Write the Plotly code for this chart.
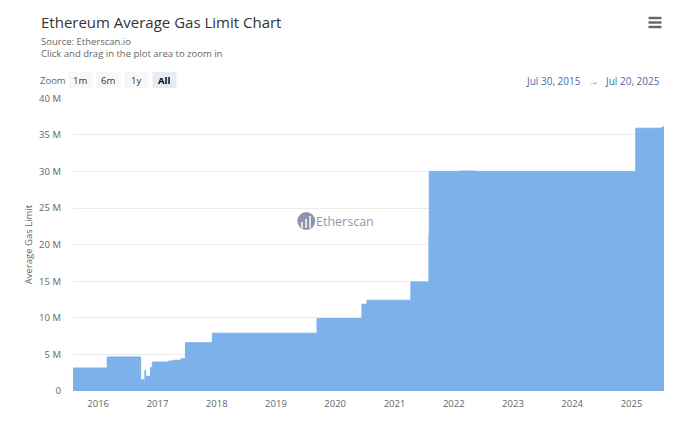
import plotly.graph_objects as go

dates = ["2015-07-30","2016-02-26","2016-09-19","2016-10-09","2016-10-15","2016-10-20","2016-11-19","2016-11-30",
         "2017-03-12","2017-04-09","2017-05-26","2017-06-22","2017-12-05","2019-09-11","2020-06-14","2020-07-15",
         "2021-04-12","2021-08-01","2021-08-03","2022-02-01","2022-05-15","2025-01-27","2025-07-06","2025-07-20"]
gas_limit = [3.14,4.65,1.55,1.2,2.8,2.0,3.2,3.95,
             4.1,4.2,4.4,6.6,7.9,9.9,11.85,12.4,
             14.9,21.4,30.0,30.05,30.0,35.9,36.0,36.3]
y_ticks = [0,5,10,15,20,25,30,35,40]
y_labels = ["0","5 M","10 M","15 M","20 M","25 M","30 M","35 M","40 M"]
x_ticks = ["%d-01-01" % y for y in range(2016,2026)]
x_labels = [str(y) for y in range(2016,2026)]
zoom_buttons = ["1m","6m","1y","All"]

W,H = 680,422
L,R,T,B = 72.5,664,98,391
FONT = "Open Sans"
FILL = "#7db1ea"

def px(x): return (x-L)/(R-L)
def py(y): return (B-y)/(B-T)

fig = go.Figure(go.Scatter(x=dates,y=gas_limit,mode="lines",line=dict(shape="hv",color=FILL,width=1),
                           fill="tozeroy",fillcolor=FILL,hoverinfo="x+y"))

shapes=[]; ann=[]
def text(x,y,s,size,color,anchor="left",**k):
    ann.append(dict(x=px(x),y=py(y),xref="paper",yref="paper",text=s,showarrow=False,xanchor=anchor,yanchor="middle",
                    font=dict(family=FONT,size=size,color=color),**k))
def rect(x0,y0,x1,y1,color):
    shapes.append(dict(type="rect",xref="paper",yref="paper",x0=px(x0),x1=px(x1),y0=py(y0),y1=py(y1),
                       fillcolor=color,line_width=0,layer="above"))

text(38,21.5,"Ethereum Average Gas Limit Chart",15,"#333333")
text(38,48,"Source: Etherscan.io<br>Click and drag in the plot area to zoom in",9.5,"#666666",align="left")
text(37,80.5,"Zoom",9.5,"#666666")
for label,x0,x1 in zip(zoom_buttons,[68,96,124,152],[92,120,148,176]):
    active = label=="All"
    rect(x0,72,x1,88,"#e6ebf5" if active else "#f7f7f7")
    ann.append(dict(x=px((x0+x1)/2),y=py(80.5),xref="paper",yref="paper",text="<b>%s</b>"%label if active else label,
                    showarrow=False,xanchor="center",yanchor="middle",
                    font=dict(family=FONT,size=9.5,color="#000000" if active else "#333333")))
text(662,80.5,"Jul 30, 2015 \u00a0 \u2192 \u00a0 Jul 20, 2025",10,"#4f68a8","right")
for y in (18,22.5,27):
    rect(648.5,y-1.2,661.5,y+1.2,"#666666")

# watermark logo
shapes.append(dict(type="circle",xref="paper",yref="paper",x0=px(297),x1=px(315),y0=py(212),y1=py(230),
                   fillcolor="#8f93ab",line_width=0,layer="above"))
for x,y in ((301,222),(305,219),(309,216)):
    rect(x,y,x+1.5,228,"#ffffff")
text(313.5,221,"Etherscan",12.5,"#9296ab")

fig.update_layout(
    width=W,height=H,autosize=False,
    margin=dict(l=L,r=W-R,t=T,b=H-B,pad=0),
    paper_bgcolor="#ffffff",plot_bgcolor="#ffffff",showlegend=False,
    font=dict(family=FONT,size=9.5,color="#666666"),
    shapes=shapes,annotations=ann,
    xaxis=dict(type="date",range=["2015-07-30","2025-07-20"],tickvals=x_ticks,ticktext=x_labels,showgrid=False,
               showline=False,zeroline=False,ticks="",ticklabelstandoff=5,tickfont=dict(size=9.5,color="#666666")),
    yaxis=dict(range=[0,40.03],tickvals=y_ticks,ticktext=y_labels,gridcolor="#ebebeb",gridwidth=1,zeroline=False,
               showline=False,ticks="",layer="below traces",ticklabelstandoff=11,tickfont=dict(size=9.5,color="#666666"),
               title=dict(text="Average Gas Limit",font=dict(size=9.5,color="#666666"),standoff=4)),
)
fig.write_html("out.html",config=dict(displayModeBar=False),post_script="document.body.style.margin='0';")
